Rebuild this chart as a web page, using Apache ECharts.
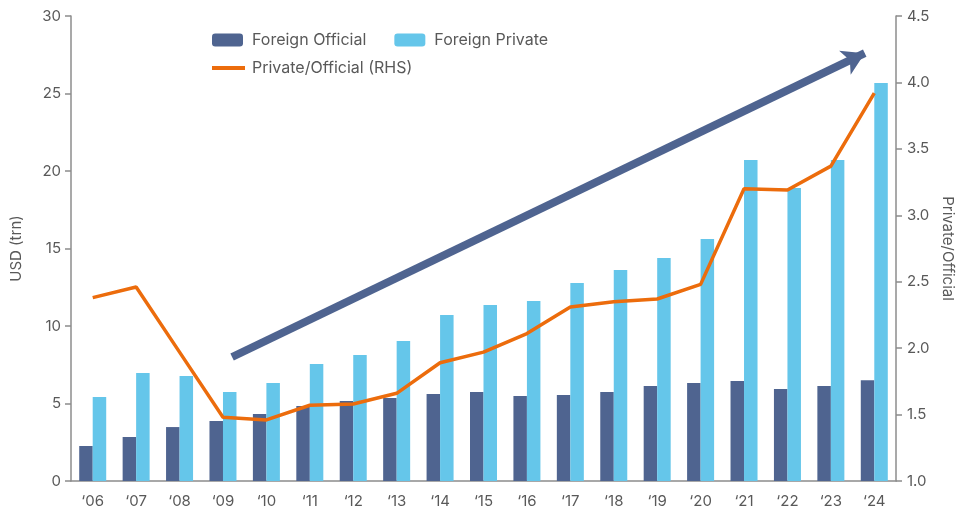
<!DOCTYPE html>
<html>
<head>
<meta charset="utf-8">
<script src="https://cdn.jsdelivr.net/npm/echarts@6/dist/echarts.min.js"></script>
<style>
  html, body { margin: 0; padding: 0; background: #fff; }
  #chart { width: 963px; height: 512px; }
</style>
</head>
<body>
<div id="chart"></div>
<script>
// data
const years = ['‘06', '‘07', '‘08', '‘09', '‘10', '‘11', '‘12', '‘13', '‘14', '‘15',
  '‘16', '‘17', '‘18', '‘19', '‘20', '‘21', '‘22', '‘23', '‘24'];
const foreignOfficial = [2.26, 2.84, 3.48, 3.87, 4.32, 4.84, 5.16, 5.35, 5.61, 5.74,
  5.48, 5.55, 5.74, 6.13, 6.32, 6.45, 5.94, 6.13, 6.5];
const foreignPrivate = [5.42, 6.97, 6.77, 5.74, 6.32, 7.55, 8.13, 9.03, 10.71, 11.35,
  11.61, 12.77, 13.61, 14.39, 15.61, 20.71, 18.9, 20.71, 25.68];
const privateOfficial = [2.38, 2.46, 1.97, 1.48, 1.46, 1.57, 1.58, 1.66, 1.89, 1.97,
  2.11, 2.31, 2.35, 2.37, 2.48, 3.2, 3.19, 3.37, 3.92];
// trend arrow, in (category index, USD trn)
const arrowFrom = [3.21, 8.0];
const arrowTo = [17.78, 27.6];

const grey = '#595959';
const axisGrey = '#8c8c8c';
const fontFamily = 'Inter, "Noto Sans", sans-serif';

const chart = echarts.init(document.getElementById('chart'));

const options = {
  animation: false,
  textStyle: { fontFamily: fontFamily },
  legend: [
    {
      data: ['Foreign Official', 'Foreign Private'],
      left: 207, top: 27,
      itemWidth: 31, itemHeight: 13, itemGap: 28,
      textStyle: { color: grey, fontSize: 16, fontFamily: fontFamily, padding: [0, 0, 0, 4] }
    },
    {
      data: [{ name: 'Private/Official (RHS)', icon: 'rect' }],
      left: 207, top: 55,
      itemWidth: 33, itemHeight: 4,
      textStyle: { color: grey, fontSize: 16, fontFamily: fontFamily, padding: [0, 0, 0, 2] }
    }
  ],
  grid: { left: 71, right: 67, top: 16, bottom: 31, outerBoundsMode: 'none', containLabel: false },
  xAxis: [
    {
      type: 'category',
      data: years,
      axisLine: { lineStyle: { color: axisGrey, width: 1.5 } },
      axisTick: { interval: 0, length: 7, lineStyle: { color: axisGrey, width: 1.5 } },
      axisLabel: { color: grey, fontSize: 15, margin: 13, interval: 0 }
    },
    {
      type: 'value', min: -0.5, max: 18.5, show: false
    }
  ],
  yAxis: [
    {
      type: 'value', min: 0, max: 30, interval: 5,
      name: 'USD (trn)', nameLocation: 'middle', nameGap: 47,
      nameTextStyle: { color: grey, fontSize: 15 },
      axisLine: { show: true, onZero: false, lineStyle: { color: axisGrey, width: 1.5 } },
      axisTick: { show: true, length: 6, lineStyle: { color: axisGrey, width: 1.5 } },
      axisLabel: { color: grey, fontSize: 15, margin: 10 },
      splitLine: { show: false }
    },
    {
      type: 'value', min: 1, max: 4.5, interval: 0.5, position: 'right',
      name: 'Private/Official', nameLocation: 'middle', nameGap: 44, nameRotate: -90,
      nameTextStyle: { color: grey, fontSize: 15 },
      axisLine: { show: true, onZero: false, lineStyle: { color: axisGrey, width: 1.5 } },
      axisTick: { show: true, length: 6, lineStyle: { color: axisGrey, width: 1.5 } },
      axisLabel: { color: grey, fontSize: 15, margin: 11, formatter: v => v.toFixed(1) },
      splitLine: { show: false }
    }
  ],
  series: [
    {
      name: 'Foreign Official', type: 'bar', data: foreignOfficial,
      barWidth: 13.5, barGap: '0%',
      itemStyle: { color: '#4f6490' }
    },
    {
      name: 'Foreign Private', type: 'bar', data: foreignPrivate,
      barWidth: 13.5, barGap: '0%',
      itemStyle: { color: '#65c6ea' }
    },
    {
      name: 'Private/Official (RHS)', type: 'line', yAxisIndex: 1, data: privateOfficial,
      symbol: 'none', lineStyle: { color: '#ec6c0c', width: 3.5 },
      itemStyle: { color: '#ec6c0c' }
    },
    {
      name: 'trend', type: 'scatter', xAxisIndex: 1, yAxisIndex: 0, data: [],
      silent: true,
      markLine: {
        silent: true,
        symbol: ['none', 'arrow'],
        symbolSize: [20, 22],
        label: { show: false },
        lineStyle: { color: '#4f6490', width: 8, type: 'solid' },
        data: [[{ coord: arrowFrom }, { coord: arrowTo }]]
      }
    }
  ]
};

chart.setOption(options);
</script>
</body>
</html>
